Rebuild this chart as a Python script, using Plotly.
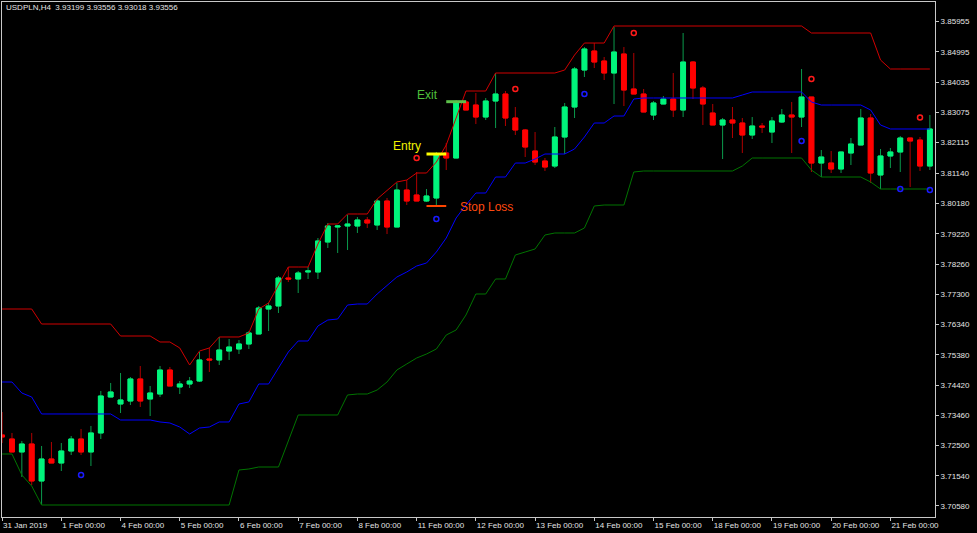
import plotly.graph_objects as go

# ---------------- data (USDPLN H4, bar index 0 = 31 Jan 2019 00:00) ----------------
bar_index = list(range(95))

opens = [
    3.72833, 3.72706, 3.72294, 3.72547, 3.71373, 3.72071, 3.71944, 3.72325, 3.72706, 3.72294,
    3.72897, 3.74039, 3.73817, 3.73912, 3.74611, 3.73976, 3.74134, 3.74896, 3.74357, 3.74452,
    3.74547, 3.75245, 3.75214, 3.75499, 3.75563, 3.75721, 3.76039, 3.76832, 3.76928, 3.77816,
    3.77785, 3.78007, 3.78007, 3.78959, 3.79435, 3.79467, 3.79467, 3.79657, 3.79499, 3.80260,
    3.79435, 3.80609, 3.80451, 3.80260, 3.80356, 3.81784, 3.81625, 3.83403, 3.83307, 3.82926,
    3.83434, 3.83656, 3.82895, 3.82514, 3.81847, 3.81530, 3.81371, 3.82292, 3.83244, 3.84418,
    3.85021, 3.84704, 3.84323, 3.84926, 3.83815, 3.83656, 3.82990, 3.83339, 3.83498, 3.83149,
    3.84672, 3.83847, 3.83053, 3.82673, 3.82831, 3.82736, 3.82355, 3.82641, 3.82450, 3.82768,
    3.82990, 3.82926, 3.83561, 3.81466, 3.81466, 3.81276, 3.81784, 3.82038, 3.82895, 3.81086,
    3.81689, 3.81816, 3.82260, 3.82196, 3.81371]

highs = [
    3.73563, 3.72897, 3.72643, 3.72897, 3.72484, 3.72611, 3.72579, 3.72801, 3.73024, 3.73119,
    3.74230, 3.74484, 3.74801, 3.74674, 3.75023, 3.74388, 3.75023, 3.74991, 3.74547, 3.74674,
    3.75468, 3.75595, 3.75944, 3.75880, 3.75848, 3.76134, 3.76928, 3.77023, 3.77880, 3.78165,
    3.78039, 3.78165, 3.79086, 3.79562, 3.79499, 3.79816, 3.79752, 3.79752, 3.80324, 3.80356,
    3.80832, 3.80927, 3.81181, 3.80641, 3.81816, 3.82101, 3.83466, 3.83466, 3.83688, 3.83530,
    3.84323, 3.83752, 3.83244, 3.82546, 3.82450, 3.81625, 3.82609, 3.83371, 3.84513, 3.85148,
    3.85275, 3.84831, 3.85783, 3.85148, 3.84958, 3.83815, 3.83434, 3.83593, 3.84323, 3.85593,
    3.84704, 3.83910, 3.83339, 3.82895, 3.83244, 3.82895, 3.82926, 3.82736, 3.82926, 3.83180,
    3.83403, 3.84450, 3.83561, 3.81879, 3.81847, 3.81816, 3.82260, 3.83180, 3.83022, 3.81911,
    3.81943, 3.82323, 3.82260, 3.82292, 3.82990]

lows = [
    3.72579, 3.72294, 3.71500, 3.71246, 3.70611, 3.71944, 3.71690, 3.72198, 3.72198, 3.71849,
    3.72706, 3.74039, 3.73531, 3.73785, 3.73722, 3.73436, 3.74039, 3.74388, 3.74134, 3.74325,
    3.74515, 3.74833, 3.75055, 3.75214, 3.75404, 3.75563, 3.76039, 3.76134, 3.76705, 3.77689,
    3.77340, 3.77785, 3.77785, 3.78769, 3.78610, 3.78705, 3.79245, 3.79403, 3.79340, 3.79213,
    3.79435, 3.80133, 3.80260, 3.80229, 3.80133, 3.81244, 3.81625, 3.83149, 3.82704, 3.82831,
    3.82577, 3.82641, 3.82355, 3.81657, 3.81403, 3.81213, 3.81308, 3.81752, 3.82895, 3.84196,
    3.84482, 3.84101, 3.83339, 3.83276, 3.83656, 3.83085, 3.82831, 3.83339, 3.82926, 3.82926,
    3.83498, 3.82673, 3.82673, 3.81593, 3.82260, 3.81784, 3.82228, 3.82419, 3.82101, 3.82736,
    3.81784, 3.82609, 3.81181, 3.81022, 3.81149, 3.81149, 3.81403, 3.82038, 3.80832, 3.80641,
    3.81308, 3.81181, 3.80705, 3.81213, 3.81244]

closes = [
    3.72770, 3.72294, 3.72547, 3.71373, 3.72071, 3.71944, 3.72325, 3.72706, 3.72294, 3.72897,
    3.74071, 3.74198, 3.73944, 3.74611, 3.73912, 3.74166, 3.74896, 3.74388, 3.74452, 3.74547,
    3.75214, 3.75214, 3.75531, 3.75626, 3.75721, 3.76071, 3.76864, 3.76928, 3.77816, 3.77785,
    3.77975, 3.78039, 3.78991, 3.79467, 3.79467, 3.79530, 3.79657, 3.79562, 3.80260, 3.79435,
    3.80609, 3.80260, 3.80260, 3.80419, 3.81752, 3.81625, 3.83403, 3.83149, 3.82926, 3.83434,
    3.83656, 3.82895, 3.82514, 3.81974, 3.81498, 3.81339, 3.82292, 3.83244, 3.84450, 3.85085,
    3.84672, 3.84323, 3.84990, 3.83783, 3.83656, 3.83085, 3.83371, 3.83498, 3.83149, 3.84672,
    3.83847, 3.83339, 3.82673, 3.82831, 3.82736, 3.82355, 3.82641, 3.82609, 3.82800, 3.82990,
    3.82926, 3.83561, 3.81466, 3.81657, 3.81276, 3.81816, 3.82069, 3.82895, 3.81149, 3.81689,
    3.81816, 3.82260, 3.82165, 3.81371, 3.82546]

upper_band = [
    3.76832, 3.76832, 3.76832, 3.76832, 3.76356, 3.76356, 3.76356, 3.76356, 3.76356, 3.76356,
    3.76356, 3.76356, 3.75975, 3.75975, 3.75975, 3.75975, 3.75785, 3.75785, 3.75595, 3.75055,
    3.75499, 3.75595, 3.75944, 3.75944, 3.75944, 3.76071, 3.76832, 3.77023, 3.77594, 3.78165,
    3.78165, 3.78165, 3.78895, 3.79530, 3.79530, 3.79848, 3.79848, 3.79848, 3.80324, 3.80609,
    3.80863, 3.80927, 3.81149, 3.81149, 3.81498, 3.82038, 3.82926, 3.83752, 3.83752, 3.83752,
    3.84323, 3.84323, 3.84323, 3.84323, 3.84323, 3.84323, 3.84323, 3.84418, 3.84894, 3.85275,
    3.85275, 3.85275, 3.85815, 3.85815, 3.85815, 3.85815, 3.85815, 3.85815, 3.85815, 3.85815,
    3.85815, 3.85815, 3.85815, 3.85815, 3.85815, 3.85815, 3.85815, 3.85815, 3.85815, 3.85815,
    3.85815, 3.85815, 3.85593, 3.85593, 3.85593, 3.85593, 3.85593, 3.85593, 3.85593, 3.84736,
    3.84450, 3.84450, 3.84450, 3.84450, 3.84450]

middle_band = [
    3.74515, 3.74515, 3.74166, 3.74039, 3.73500, 3.73500, 3.73500, 3.73500, 3.73500, 3.73500,
    3.73500, 3.73500, 3.73309, 3.73309, 3.73309, 3.73309, 3.73246, 3.73214, 3.73087, 3.72865,
    3.73055, 3.73087, 3.73246, 3.73246, 3.73817, 3.73881, 3.74452, 3.74452, 3.74960, 3.75468,
    3.75817, 3.75817, 3.76293, 3.76483, 3.76515, 3.76959, 3.76991, 3.76991, 3.77308, 3.77594,
    3.77848, 3.78007, 3.78197, 3.78292, 3.78642, 3.79086, 3.79721, 3.80133, 3.80514, 3.80514,
    3.81022, 3.81022, 3.81466, 3.81466, 3.81593, 3.81752, 3.81752, 3.81752, 3.81911, 3.82292,
    3.82736, 3.82736, 3.82958, 3.82958, 3.83498, 3.83530, 3.83530, 3.83530, 3.83530, 3.83530,
    3.83530, 3.83530, 3.83530, 3.83530, 3.83530, 3.83625, 3.83720, 3.83720, 3.83720, 3.83720,
    3.83720, 3.83720, 3.83403, 3.83307, 3.83307, 3.83307, 3.83307, 3.83307, 3.83149, 3.82673,
    3.82546, 3.82546, 3.82546, 3.82546, 3.82546]

lower_band = [
    3.72230, 3.72230, 3.71564, 3.71214, 3.70611, 3.70611, 3.70611, 3.70611, 3.70611, 3.70611,
    3.70611, 3.70611, 3.70611, 3.70611, 3.70611, 3.70611, 3.70611, 3.70611, 3.70611, 3.70611,
    3.70611, 3.70611, 3.70611, 3.70611, 3.71722, 3.71754, 3.71817, 3.71817, 3.71817, 3.72643,
    3.73468, 3.73468, 3.73468, 3.73468, 3.73468, 3.74103, 3.74134, 3.74134, 3.74261, 3.74515,
    3.74896, 3.75087, 3.75277, 3.75404, 3.75563, 3.76007, 3.76166, 3.76642, 3.77308, 3.77308,
    3.77785, 3.77785, 3.78546, 3.78642, 3.78737, 3.79181, 3.79245, 3.79245, 3.79245, 3.79403,
    3.80102, 3.80133, 3.80133, 3.80133, 3.81181, 3.81213, 3.81213, 3.81213, 3.81213, 3.81213,
    3.81213, 3.81213, 3.81213, 3.81213, 3.81213, 3.81371, 3.81625, 3.81625, 3.81625, 3.81625,
    3.81625, 3.81625, 3.81244, 3.81022, 3.81022, 3.81022, 3.81022, 3.81022, 3.80863, 3.80641,
    3.80641, 3.80641, 3.80641, 3.80641, 3.80641]

sell_signal_bars = [42, 52, 64, 82, 93]
sell_signal_prices = [3.81625, 3.83815, 3.85593, 3.84133, 3.82910]
buy_signal_bars = [8, 44, 59, 81, 91, 94]
buy_signal_prices = [3.71564, 3.79689, 3.83656, 3.82165, 3.80641, 3.80609]

entry_bars = [43, 45]
entry_price = 3.81752
stop_bars = [43, 45]
stop_price = 3.80102
exit_bars = [45, 47]
exit_price = 3.83413

day_tick_bars = [0, 6, 12, 18, 24, 30, 36, 42, 48, 54, 60, 66, 72, 78, 84, 90]
day_tick_labels = ["31 Jan 2019", "1 Feb 00:00", "4 Feb 00:00", "5 Feb 00:00", "6 Feb 00:00",
                   "7 Feb 00:00", "8 Feb 00:00", "11 Feb 00:00", "12 Feb 00:00", "13 Feb 00:00",
                   "14 Feb 00:00", "15 Feb 00:00", "18 Feb 00:00", "19 Feb 00:00", "20 Feb 00:00",
                   "21 Feb 00:00"]
price_ticks = [3.85955, 3.84995, 3.84035, 3.83075, 3.82115, 3.81140, 3.80180, 3.79220, 3.78260,
               3.77300, 3.76340, 3.75380, 3.74420, 3.73460, 3.72500, 3.71540, 3.70580]
price_tick_labels = ["3.85955", "3.84995", "3.84035", "3.83075", "3.82115", "3.81140", "3.80180",
                     "3.79220", "3.78260", "3.77300", "3.76340", "3.75380", "3.74420", "3.73460",
                     "3.72500", "3.71540", "3.70580"]
header_text = "USDPLN,H4  3.93199 3.93556 3.93018 3.93556"

# ---------------- styles ----------------
BULL = "#00f57c"
BEAR = "#ff0000"
WICK_UP = "#0a9a4c"
WICK_DN = "#b00000"
AXIS = "#c8c8c8"
TXT = "#e4e4e4"
FONT = "Liberation Sans, Arial, sans-serif"

body_top = [max(o, c) for o, c in zip(opens, closes)]
body_bot = [min(o, c) for o, c in zip(opens, closes)]

fig = go.Figure()

# wick layer
fig.add_trace(go.Candlestick(
    x=bar_index, open=opens, high=highs, low=lows, close=closes,
    increasing=dict(line=dict(color=WICK_UP, width=1), fillcolor=WICK_UP),
    decreasing=dict(line=dict(color=WICK_DN, width=1), fillcolor=WICK_DN),
    whiskerwidth=0, showlegend=False, hoverinfo="skip"))
# body layer
fig.add_trace(go.Candlestick(
    x=bar_index, open=opens, high=body_top, low=body_bot, close=closes,
    increasing=dict(line=dict(color=BULL, width=1), fillcolor=BULL),
    decreasing=dict(line=dict(color=BEAR, width=1), fillcolor=BEAR),
    whiskerwidth=0, showlegend=False, hoverinfo="skip"))

# channel lines
fig.add_trace(go.Scatter(x=bar_index, y=upper_band, mode="lines",
                         line=dict(color="#d00000", width=1), showlegend=False, hoverinfo="skip"))
fig.add_trace(go.Scatter(x=bar_index, y=middle_band, mode="lines",
                         line=dict(color="#0000ff", width=1), showlegend=False, hoverinfo="skip"))
fig.add_trace(go.Scatter(x=bar_index, y=lower_band, mode="lines",
                         line=dict(color="#007400", width=1), showlegend=False, hoverinfo="skip"))

# signal circles
fig.add_trace(go.Scatter(x=sell_signal_bars, y=sell_signal_prices, mode="markers",
                         marker=dict(symbol="circle-open", size=5, color="#ff1a1a", line=dict(width=1.5)),
                         showlegend=False, hoverinfo="skip"))
fig.add_trace(go.Scatter(x=buy_signal_bars, y=buy_signal_prices, mode="markers",
                         marker=dict(symbol="circle-open", size=5, color="#1a1aff", line=dict(width=1.5)),
                         showlegend=False, hoverinfo="skip"))

# trade levels
fig.add_trace(go.Scatter(x=entry_bars, y=[entry_price, entry_price], mode="lines",
                         line=dict(color="#ffff00", width=3), showlegend=False, hoverinfo="skip"))
fig.add_trace(go.Scatter(x=stop_bars, y=[stop_price, stop_price], mode="lines",
                         line=dict(color="#ff4500", width=2), showlegend=False, hoverinfo="skip"))
fig.add_trace(go.Scatter(x=exit_bars, y=[exit_price, exit_price], mode="lines",
                         line=dict(color="#5cc04a", width=3), showlegend=False, hoverinfo="skip"))

annotations = [
    dict(x=41.0, y=3.82006, xref="x", yref="y", text="Entry", showarrow=False,
         font=dict(family=FONT, size=12, color="#f2f200"), xanchor="center", yanchor="middle"),
    dict(x=43.05, y=3.83625, xref="x", yref="y", text="Exit", showarrow=False,
         font=dict(family=FONT, size=12, color="#4fc03c"), xanchor="center", yanchor="middle"),
    dict(x=49.05, y=3.80070, xref="x", yref="y", text="Stop Loss", showarrow=False,
         font=dict(family=FONT, size=12, color="#ff4a10"), xanchor="center", yanchor="middle"),
    dict(x=0.0021, y=0.9893, xref="paper", yref="paper", text=header_text, showarrow=False,
         font=dict(family=FONT, size=8, color=TXT), xanchor="left", yanchor="middle"),
]

fig.update_layout(
    width=977, height=533,
    margin=dict(l=2, r=42, t=2, b=16),
    paper_bgcolor="#000000", plot_bgcolor="#000000",
    showlegend=False,
    boxgap=0.3,
    annotations=annotations,
    xaxis=dict(
        range=[-0.01, 94.52], tickmode="array", tickvals=day_tick_bars, ticktext=day_tick_labels,
        ticks="outside", ticklen=3, tickcolor=AXIS, tickwidth=1,
        showgrid=False, zeroline=False, showline=True, linecolor=AXIS, linewidth=1, mirror=True,
        ticklabelposition="outside right",
        tickfont=dict(family=FONT, size=8, color=TXT),
        rangeslider=dict(visible=False), automargin=False,
    ),
    yaxis=dict(
        side="right", range=[3.70230, 3.86577], tickmode="array",
        tickvals=price_ticks, ticktext=price_tick_labels,
        ticks="outside", ticklen=3, tickcolor=AXIS, tickwidth=1,
        showgrid=False, zeroline=False, showline=True, linecolor=AXIS, linewidth=1, mirror=True,
        tickfont=dict(family=FONT, size=8, color=TXT), automargin=False,
    ),
)

fig.write_html(
    "out.html",
    config={"displayModeBar": False},
    post_script="document.body.style.margin='0';document.body.style.background='#000';",
)
